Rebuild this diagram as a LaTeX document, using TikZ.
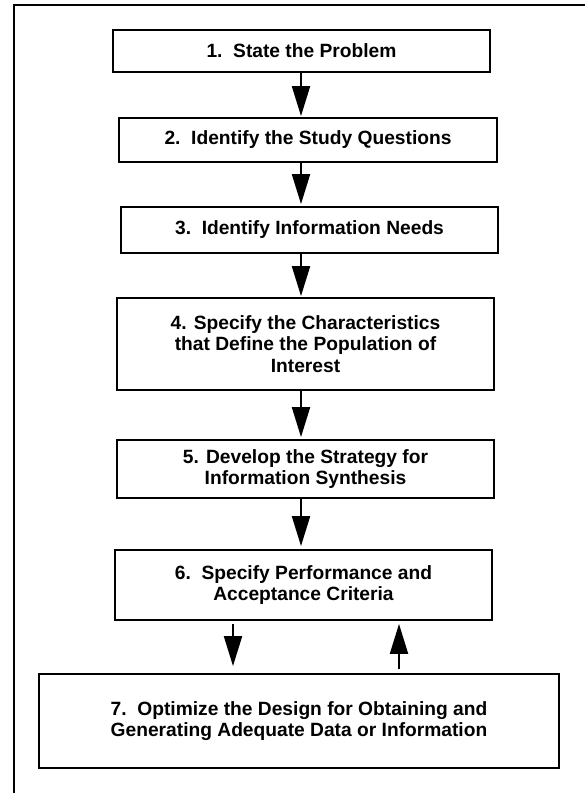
\documentclass[tikz,border=0pt]{standalone}
\usepackage{fontspec}
\setmainfont{Liberation Sans}
\usetikzlibrary{arrows.meta}
\tikzset{
  stepbox/.style={draw, line width=1.8pt, inner sep=0pt, align=center,
    font=\fontsize{19.2}{21.5}\selectfont\bfseries},
  flow/.style={line width=2pt, -{Triangle[length=30pt,width=18pt]}},
}
\begin{document}
\begin{tikzpicture}[x=1pt,y=-1pt]
\useasboundingbox (0,0) rectangle (584,794);
\fill[white] (0,0) rectangle (584,794);
\draw[line width=2pt] (14,793) -- (14,5) -- (586,5);

\node[stepbox, minimum width=377pt, minimum height=42pt] (b1) at (301.5,51) {1.\ \ State the Problem};
\node[stepbox, minimum width=378pt, minimum height=44pt] (b2) at (308,140) {2.\ \ Identify the Study Questions};
\node[stepbox, minimum width=377pt, minimum height=46pt] (b3) at (309.5,230) {3.\ \ Identify Information Needs};
\node[stepbox, minimum width=377pt, minimum height=92pt] (b4) at (305.5,344) {4. Specify the Characteristics\\that Define the Population of\\Interest};
\node[stepbox, minimum width=377pt, minimum height=58pt] (b5) at (305.5,469) {5. Develop the Strategy for\\Information Synthesis};
\node[stepbox, minimum width=377pt, minimum height=70pt] (b6) at (303.5,585) {6.\ \ Specify Performance and\\Acceptance Criteria};
\node[stepbox, minimum width=520pt, minimum height=94pt] (b7) at (299,721) {7.\ \ Optimize the Design for Obtaining and\\Generating Adequate Data or Information};

\coordinate (ax) at (301,0);
\coordinate (dn) at (233,0);
\coordinate (up) at (399,0);

\draw[flow, shorten >=1pt] (b1.south -| ax) -- (b2.north -| ax);
\draw[flow, shorten >=2pt] (b2.south -| ax) -- (b3.north -| ax);
\draw[flow, shorten >=1pt] (b3.south -| ax) -- (b4.north -| ax);
\draw[flow, shorten >=2pt] (b4.south -| ax) -- (b5.north -| ax);
\draw[flow, shorten >=3pt] (b5.south -| ax) -- (b6.north -| ax);
\draw[flow, shorten <=3pt, shorten >=7pt] (b6.south -| dn) -- (b7.north -| dn);
\draw[flow, shorten <=4pt, shorten >=3pt] (b7.north -| up) -- (b6.south -| up);
\end{tikzpicture}
\end{document}
